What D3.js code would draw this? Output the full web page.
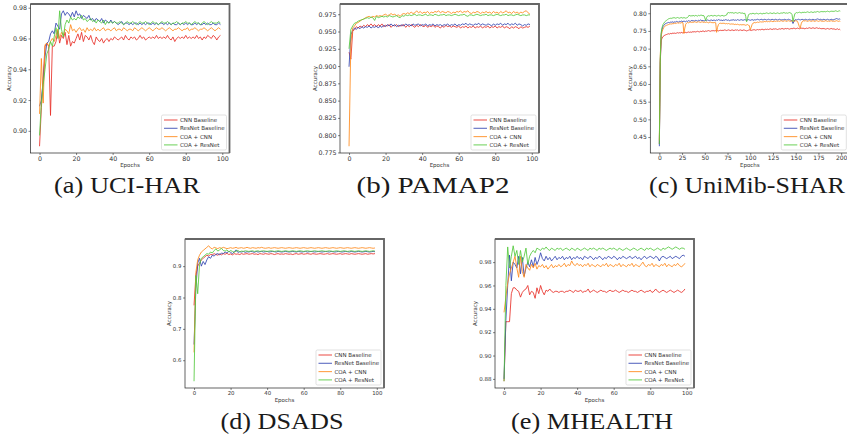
<!DOCTYPE html>
<html>
<head>
<meta charset="utf-8">
<script src="https://cdn.jsdelivr.net/npm/d3@7"></script>
<style>
  body { margin: 0; background: #fff; }
  svg { display: block; }
  .tick text { font-family: "DejaVu Sans"; fill: #333; }
  .tick line { stroke: #333; stroke-width: 0.6; }
</style>
</head>
<body>
<script>
// Legend labels and line colours (same for every panel)
var seriesNames = ["CNN Baseline", "ResNet Baseline", "COA + CNN", "COA + ResNet"];
var seriesColors = ["#e8312a", "#3446b2", "#ff8a1c", "#55c93f"];

// (a) UCI-HAR, accuracy per epoch
var uciCnn = [
  .890,.915,.935,.955,.957,.955,.910,.955,.955,.958,
  .965,.957,.962,.960,.964,.956,.962,.955,.958,.957,
  .960,.963,.959,.964,.958,.962,.961,.959,.962,.958,
  .956,.961,.959,.958,.960,.957,.959,.960,.958,.960,
  .959,.961,.960,.959,.960,.961,.959,.962,.960,.959,
  .961,.960,.961,.959,.960,.962,.960,.961,.959,.960,
  .961,.960,.961,.960,.962,.960,.961,.960,.961,.960,
  .962,.960,.959,.961,.958,.960,.961,.960,.961,.960,
  .962,.960,.961,.960,.961,.960,.962,.960,.961,.959,
  .961,.960,.962,.961,.960,.962,.961,.959,.961,.962
];
var uciResnet = [
  .916,.920,.933,.948,.957,.958,.963,.965,.963,.970,
  .968,.966,.976,.978,.975,.977,.976,.974,.977,.974,
  .978,.975,.976,.973,.975,.974,.973,.975,.972,.973,
  .971,.973,.972,.971,.973,.970,.972,.971,.970,.972,
  .970,.971,.970,.969,.970,.971,.969,.970,.970,.969,
  .970,.969,.970,.970,.969,.970,.969,.970,.969,.970,
  .970,.969,.970,.969,.970,.969,.970,.970,.969,.970,
  .969,.970,.969,.970,.969,.969,.970,.969,.970,.969,
  .970,.969,.970,.969,.969,.970,.969,.970,.969,.969,
  .970,.969,.970,.969,.969,.970,.969,.969,.970,.969
];
var uciCoaCnn = [
  .911,.947,.918,.956,.957,.955,.958,.960,.958,.962,
  .966,.960,.964,.962,.966,.965,.963,.969,.965,.966,
  .964,.966,.967,.965,.966,.964,.967,.965,.966,.965,
  .967,.965,.966,.965,.966,.967,.965,.966,.966,.965,
  .966,.967,.965,.966,.966,.965,.967,.966,.965,.966,
  .966,.965,.967,.966,.965,.966,.967,.966,.965,.966,
  .967,.966,.965,.966,.967,.966,.966,.967,.966,.965,
  .966,.967,.966,.965,.966,.966,.967,.966,.965,.966,
  .966,.967,.965,.966,.966,.967,.966,.965,.966,.966,
  .967,.966,.965,.966,.967,.966,.965,.966,.967,.966
];
var uciCoaResnet = [
  .897,.918,.930,.940,.950,.953,.958,.955,.961,.967,
  .960,.978,.966,.961,.969,.972,.970,.974,.972,.973,
  .972,.974,.973,.975,.972,.973,.971,.972,.973,.971,
  .972,.970,.972,.971,.970,.972,.969,.971,.970,.971,
  .970,.971,.970,.970,.971,.970,.969,.970,.971,.970,
  .970,.971,.970,.969,.970,.971,.970,.970,.971,.970,
  .969,.970,.971,.970,.970,.969,.970,.971,.970,.970,
  .971,.970,.969,.970,.970,.971,.970,.969,.970,.970,
  .971,.970,.970,.969,.970,.971,.970,.970,.969,.970,
  .971,.970,.969,.970,.971,.970,.970,.970,.971,.970
];

// (b) PAMAP2
var pamCnn = [
  .920,.910,.950,.953,.957,.955,.958,.956,.959,.957,
  .960,.958,.961,.958,.960,.957,.960,.958,.961,.957,
  .959,.958,.960,.956,.959,.958,.960,.957,.959,.958,
  .960,.956,.959,.957,.960,.958,.956,.959,.957,.960,
  .958,.957,.959,.956,.958,.957,.959,.956,.958,.957,
  .955,.958,.956,.959,.957,.958,.956,.958,.957,.956,
  .958,.955,.957,.956,.958,.955,.957,.956,.958,.955,
  .957,.956,.958,.955,.957,.956,.958,.955,.957,.956,
  .958,.955,.957,.956,.958,.955,.957,.956,.954,.957,
  .955,.957,.956,.954,.957,.955,.956,.957,.956,.958
];
var pamResnet = [
  .899,.945,.952,.955,.953,.956,.954,.957,.955,.957,
  .956,.958,.955,.957,.956,.958,.955,.958,.956,.959,
  .957,.960,.958,.961,.958,.960,.957,.959,.958,.960,
  .958,.961,.959,.960,.958,.961,.959,.960,.961,.958,
  .960,.959,.961,.958,.960,.959,.961,.958,.960,.959,
  .960,.958,.960,.959,.961,.958,.960,.959,.961,.958,
  .960,.959,.961,.960,.962,.959,.961,.960,.959,.961,
  .960,.962,.959,.961,.960,.959,.961,.960,.958,.961,
  .959,.961,.960,.962,.959,.961,.960,.962,.959,.961,
  .960,.962,.959,.961,.960,.958,.960,.959,.961,.960
];
var pamCoaCnn = [
  .784,.935,.955,.958,.962,.963,.965,.967,.968,.970,
  .971,.972,.970,.972,.971,.973,.972,.973,.972,.974,
  .975,.973,.974,.976,.974,.975,.973,.974,.972,.975,
  .976,.975,.977,.976,.978,.976,.977,.980,.977,.979,
  .976,.978,.977,.979,.976,.978,.977,.979,.978,.980,
  .977,.979,.978,.977,.979,.978,.976,.978,.977,.979,
  .978,.980,.977,.979,.978,.980,.977,.976,.978,.977,
  .979,.978,.976,.978,.977,.979,.977,.978,.976,.979,
  .977,.978,.976,.979,.977,.978,.980,.977,.978,.976,
  .979,.977,.978,.976,.978,.977,.979,.980,.977,.975
];
var pamCoaResnet = [
  .925,.953,.958,.962,.963,.965,.966,.967,.968,.969,
  .970,.969,.971,.970,.966,.972,.970,.971,.972,.971,
  .972,.971,.973,.972,.971,.972,.973,.971,.970,.973,
  .972,.974,.973,.974,.973,.974,.975,.973,.974,.974,
  .973,.974,.975,.973,.974,.974,.973,.975,.974,.973,
  .974,.974,.975,.973,.974,.974,.973,.974,.975,.974,
  .973,.974,.974,.975,.973,.972,.974,.974,.973,.974,
  .975,.974,.973,.974,.974,.975,.973,.974,.974,.973,
  .974,.975,.974,.973,.974,.974,.975,.973,.974,.974,
  .973,.974,.975,.974,.973,.974,.974,.973,.974,.974
];

// (c) UniMib-SHAR, 200 epochs
var uniCnn = [
  .430,.660,.722,.730,.734,.736,.738,.739,.740,.741,
  .742,.741,.743,.742,.743,.744,.743,.744,.743,.744,
  .745,.744,.745,.744,.746,.745,.744,.746,.745,.746,
  .745,.746,.747,.746,.747,.746,.747,.748,.747,.748,
  .747,.748,.749,.748,.747,.749,.748,.749,.750,.749,
  .748,.750,.749,.750,.751,.750,.749,.750,.751,.750,
  .751,.750,.751,.752,.751,.750,.751,.752,.751,.752,
  .751,.752,.753,.752,.751,.752,.753,.752,.751,.752,
  .753,.752,.751,.752,.753,.752,.753,.751,.752,.753,
  .752,.751,.752,.753,.752,.751,.750,.751,.752,.753,
  .752,.751,.753,.752,.754,.753,.752,.753,.754,.753,
  .754,.753,.754,.755,.754,.753,.754,.755,.754,.755,
  .754,.755,.756,.755,.754,.755,.756,.755,.756,.755,
  .754,.755,.756,.755,.756,.757,.756,.755,.756,.757,
  .756,.757,.756,.755,.756,.757,.756,.757,.758,.757,
  .756,.757,.758,.757,.756,.757,.758,.757,.758,.757,
  .756,.757,.758,.757,.758,.759,.758,.757,.758,.759,
  .758,.757,.758,.759,.758,.757,.758,.757,.756,.757,
  .756,.757,.756,.755,.756,.757,.756,.755,.756,.757,
  .756,.755,.756,.755,.754,.755,.756,.754,.755,.753
];
var uniResnet = [
  .424,.660,.740,.755,.762,.766,.769,.771,.772,.773,
  .774,.773,.775,.774,.776,.775,.774,.776,.775,.777,
  .776,.775,.777,.776,.778,.777,.776,.778,.777,.776,
  .778,.777,.779,.778,.777,.779,.780,.778,.779,.778,
  .780,.779,.778,.780,.779,.781,.780,.779,.780,.778,
  .779,.780,.779,.781,.780,.779,.780,.781,.780,.779,
  .781,.780,.779,.781,.780,.782,.781,.780,.781,.779,
  .780,.781,.780,.782,.781,.780,.781,.779,.780,.781,
  .780,.782,.781,.780,.781,.780,.782,.781,.780,.781,
  .782,.781,.780,.781,.782,.781,.780,.781,.782,.781,
  .780,.781,.782,.781,.780,.782,.781,.782,.783,.782,
  .781,.782,.783,.782,.781,.782,.783,.782,.781,.782,
  .783,.782,.781,.782,.783,.782,.781,.782,.783,.782,
  .781,.782,.783,.782,.781,.782,.781,.782,.783,.782,
  .781,.782,.783,.782,.781,.780,.778,.771,.776,.781,
  .782,.781,.782,.783,.782,.781,.782,.783,.782,.781,
  .782,.783,.782,.781,.782,.783,.782,.781,.782,.783,
  .782,.781,.782,.783,.784,.783,.782,.783,.782,.781,
  .782,.783,.782,.781,.782,.783,.782,.781,.782,.783,
  .782,.781,.782,.783,.784,.785,.784,.783,.784,.783
];
var uniCoaCnn = [
  .440,.680,.735,.748,.755,.760,.763,.765,.766,.767,
  .768,.769,.770,.769,.771,.770,.771,.772,.771,.772,
  .773,.772,.773,.772,.773,.774,.773,.743,.758,.769,
  .772,.774,.773,.774,.775,.774,.775,.774,.775,.776,
  .775,.774,.775,.776,.775,.774,.775,.776,.775,.774,
  .775,.774,.775,.774,.773,.774,.775,.774,.773,.774,
  .773,.774,.773,.746,.760,.768,.771,.772,.771,.772,
  .771,.772,.771,.770,.771,.770,.771,.770,.769,.770,
  .769,.770,.769,.768,.769,.768,.769,.768,.767,.768,
  .767,.768,.767,.768,.767,.766,.767,.768,.766,.765,
  .753,.760,.768,.772,.773,.774,.773,.774,.775,.774,
  .775,.776,.775,.776,.775,.776,.777,.776,.777,.776,
  .777,.776,.777,.778,.777,.776,.777,.778,.777,.778,
  .777,.778,.777,.778,.779,.778,.777,.778,.779,.778,
  .777,.778,.779,.778,.777,.778,.779,.778,.777,.778,
  .779,.778,.777,.770,.762,.758,.770,.776,.778,.779,
  .778,.779,.778,.777,.778,.779,.778,.777,.778,.779,
  .778,.777,.778,.779,.778,.777,.778,.779,.778,.777,
  .778,.777,.778,.779,.778,.777,.778,.777,.778,.779,
  .778,.777,.778,.777,.778,.779,.778,.777,.778,.777
];
var uniCoaResnet = [
  .430,.670,.745,.760,.768,.772,.776,.778,.780,.782,
  .784,.785,.786,.785,.787,.786,.788,.787,.786,.787,
  .788,.787,.786,.787,.788,.787,.786,.788,.787,.786,
  .787,.788,.791,.795,.792,.793,.792,.794,.793,.792,
  .794,.793,.792,.794,.793,.794,.795,.793,.794,.793,
  .787,.779,.788,.792,.793,.792,.793,.794,.793,.792,
  .793,.794,.793,.792,.793,.794,.793,.792,.793,.794,
  .793,.792,.793,.794,.795,.801,.802,.801,.802,.801,
  .802,.801,.800,.801,.802,.801,.800,.801,.802,.801,
  .800,.801,.800,.799,.800,.791,.776,.785,.795,.798,
  .799,.798,.799,.800,.799,.798,.799,.800,.799,.798,
  .799,.800,.799,.798,.799,.800,.799,.800,.801,.800,
  .799,.800,.801,.800,.799,.800,.801,.800,.799,.800,
  .801,.800,.799,.800,.801,.800,.801,.802,.801,.800,
  .801,.800,.801,.802,.801,.800,.796,.777,.788,.798,
  .801,.802,.801,.802,.803,.802,.801,.802,.803,.802,
  .803,.802,.803,.804,.803,.802,.803,.804,.803,.802,
  .803,.804,.803,.804,.805,.804,.803,.804,.805,.804,
  .805,.804,.805,.804,.805,.806,.805,.804,.805,.806,
  .805,.806,.805,.806,.807,.806,.805,.806,.807,.806
];

// (d) DSADS
var dsaCnn = [
  .775,.870,.900,.910,.920,.925,.930,.935,.932,.938,
  .936,.940,.937,.935,.939,.936,.940,.938,.941,.937,
  .939,.936,.940,.938,.939,.937,.940,.938,.939,.940,
  .938,.939,.940,.938,.939,.937,.940,.939,.938,.940,
  .939,.938,.940,.939,.937,.939,.940,.938,.939,.938,
  .940,.939,.938,.939,.937,.939,.940,.938,.939,.940,
  .938,.939,.940,.939,.938,.940,.939,.938,.939,.940,
  .939,.938,.939,.940,.938,.939,.940,.939,.938,.939,
  .940,.938,.939,.940,.939,.938,.940,.939,.938,.939,
  .940,.939,.938,.939,.940,.938,.939,.940,.939,.940
];
var dsaResnet = [
  .650,.830,.910,.925,.900,.915,.905,.920,.930,.925,
  .935,.932,.938,.940,.936,.942,.940,.945,.942,.948,
  .944,.940,.946,.952,.944,.946,.945,.947,.944,.946,
  .945,.947,.946,.944,.947,.945,.946,.947,.945,.946,
  .947,.945,.946,.947,.946,.945,.947,.946,.945,.946,
  .947,.946,.945,.946,.947,.946,.945,.947,.946,.945,
  .946,.947,.945,.946,.947,.946,.945,.946,.947,.946,
  .945,.946,.947,.946,.945,.947,.946,.945,.946,.947,
  .946,.945,.946,.947,.946,.945,.947,.946,.945,.946,
  .947,.946,.945,.946,.947,.946,.945,.946,.947,.946
];
var dsaCoaCnn = [
  .625,.880,.920,.935,.945,.950,.955,.960,.965,.958,
  .955,.960,.958,.956,.959,.957,.960,.958,.956,.957,
  .959,.957,.958,.960,.957,.958,.959,.957,.958,.960,
  .958,.957,.959,.958,.957,.959,.958,.960,.958,.957,
  .958,.959,.957,.958,.959,.958,.957,.958,.959,.958,
  .957,.958,.959,.958,.957,.958,.959,.958,.957,.958,
  .959,.958,.957,.958,.959,.958,.957,.958,.959,.958,
  .957,.958,.959,.958,.957,.958,.959,.958,.957,.958,
  .959,.958,.957,.958,.959,.958,.957,.958,.959,.958,
  .957,.958,.959,.958,.957,.958,.959,.958,.957,.958
];
var dsaCoaResnet = [
  .533,.870,.812,.905,.925,.930,.935,.940,.938,.945,
  .942,.950,.955,.948,.952,.957,.950,.948,.952,.945,
  .950,.947,.944,.948,.950,.946,.948,.947,.949,.948,
  .947,.948,.949,.947,.948,.949,.947,.948,.949,.948,
  .947,.948,.949,.948,.947,.948,.949,.948,.947,.948,
  .949,.948,.947,.948,.949,.948,.947,.948,.949,.948,
  .947,.948,.949,.948,.947,.948,.949,.948,.947,.948,
  .949,.948,.947,.948,.949,.948,.947,.948,.949,.948,
  .947,.948,.949,.948,.947,.948,.949,.948,.947,.948,
  .949,.948,.947,.948,.949,.948,.947,.948,.949,.948
];

// (e) MHEALTH
var mhCnn = [
  .878,.929,.929,.929,.953,.958,.958,.956,.955,.950,
  .954,.956,.957,.960,.952,.955,.954,.949,.958,.953,
  .960,.955,.952,.956,.955,.957,.955,.954,.955,.955,
  .954,.955,.955,.954,.955,.955,.956,.955,.954,.956,
  .955,.955,.956,.954,.955,.955,.957,.954,.955,.956,
  .955,.954,.955,.956,.955,.955,.954,.955,.956,.955,
  .955,.956,.955,.954,.955,.956,.955,.955,.954,.955,
  .956,.955,.955,.954,.955,.956,.955,.954,.955,.955,
  .956,.954,.955,.957,.955,.954,.955,.956,.955,.954,
  .955,.956,.955,.954,.955,.956,.955,.954,.955,.957
];
var mhResnet = [
  .880,.930,.960,.986,.964,.980,.978,.975,.985,.970,
  .984,.968,.975,.980,.976,.982,.976,.984,.978,.982,
  .988,.983,.981,.985,.982,.984,.981,.983,.985,.982,
  .984,.983,.985,.982,.984,.983,.985,.982,.984,.983,
  .985,.983,.984,.982,.985,.984,.983,.985,.984,.982,
  .984,.983,.985,.984,.982,.984,.983,.985,.984,.983,
  .985,.984,.982,.984,.983,.985,.984,.983,.984,.985,
  .983,.984,.985,.983,.984,.982,.984,.985,.983,.984,
  .985,.984,.983,.985,.984,.981,.984,.985,.984,.983,
  .984,.985,.983,.984,.985,.984,.983,.985,.986,.985
];
var mhCoaCnn = [
  .937,.950,.962,.970,.975,.980,.985,.975,.967,.985,
  .972,.967,.978,.975,.973,.978,.975,.979,.974,.977,
  .976,.978,.975,.977,.974,.976,.978,.975,.977,.976,
  .978,.976,.977,.979,.976,.978,.977,.981,.978,.977,
  .979,.977,.978,.976,.978,.977,.979,.976,.978,.977,
  .976,.978,.977,.976,.978,.977,.979,.976,.978,.977,
  .976,.978,.977,.979,.976,.978,.977,.976,.978,.977,
  .979,.976,.978,.977,.976,.978,.980,.977,.976,.978,
  .977,.979,.976,.978,.977,.976,.978,.977,.979,.976,
  .978,.977,.976,.978,.977,.979,.977,.976,.977,.979
];
var mhCoaResnet = [
  .878,.960,.993,.975,.985,.994,.985,.990,.978,.990,
  .980,.985,.992,.978,.985,.988,.990,.988,.992,.991,
  .990,.992,.991,.993,.991,.990,.992,.991,.990,.992,
  .991,.992,.990,.991,.992,.991,.990,.992,.991,.990,
  .992,.991,.990,.991,.992,.991,.990,.992,.991,.992,
  .991,.990,.992,.991,.992,.991,.990,.991,.992,.991,
  .992,.991,.990,.992,.991,.990,.991,.992,.991,.990,
  .991,.992,.991,.990,.991,.992,.991,.990,.992,.991,
  .992,.991,.990,.991,.992,.991,.990,.992,.991,.992,
  .993,.992,.991,.992,.993,.992,.991,.992,.992,.991
];

// Tick values
var xTicks100 = [0, 20, 40, 60, 80, 100];
var xTicks200 = [0, 25, 50, 75, 100, 125, 150, 175, 200];
var uciTicks = [0.90, 0.92, 0.94, 0.96, 0.98];
var pamTicks = [0.775, 0.800, 0.825, 0.850, 0.875, 0.900, 0.925, 0.950, 0.975];
var uniTicks = [0.45, 0.50, 0.55, 0.60, 0.65, 0.70, 0.75, 0.80];
var dsaTicks = [0.6, 0.7, 0.8, 0.9];
var mhTicks = [0.88, 0.90, 0.92, 0.94, 0.96, 0.98];

var svgWidth = 847, svgHeight = 440;
var plotW = 199, plotH = 149;

var svg = d3.select("body").append("svg")
  .attr("width", svgWidth)
  .attr("height", svgHeight);

// Panel placement; captions are stretched to the width of the LaTeX captions
var panels = [
  { caption: "(a) UCI-HAR", left: 30.5, top: 4, series: [uciCnn, uciResnet, uciCoaCnn, uciCoaResnet],
    yTicks: uciTicks, yFmt: ".2f", xTicks: xTicks100, tickFont: 6.3, capX: 127, capY: 193, capW: 146 },
  { caption: "(b) PAMAP2", left: 340, top: 4, series: [pamCnn, pamResnet, pamCoaCnn, pamCoaResnet],
    yTicks: pamTicks, yFmt: ".3f", xTicks: xTicks100, tickFont: 6.3, capX: 433, capY: 193, capW: 153 },
  { caption: "(c) UniMib-SHAR", left: 650.3, top: 4, series: [uniCnn, uniResnet, uniCoaCnn, uniCoaResnet],
    yTicks: uniTicks, yFmt: ".2f", xTicks: xTicks200, tickFont: 6, capX: 747, capY: 193, capW: 196 },
  { caption: "(d) DSADS", left: 185, top: 239, series: [dsaCnn, dsaResnet, dsaCoaCnn, dsaCoaResnet],
    yTicks: dsaTicks, yFmt: ".1f", xTicks: xTicks100, tickFont: 5.4, capX: 282, capY: 429, capW: 123 },
  { caption: "(e) MHEALTH", left: 495, top: 239, series: [mhCnn, mhResnet, mhCoaCnn, mhCoaResnet],
    yTicks: mhTicks, yFmt: ".2f", xTicks: xTicks100, tickFont: 5.5, capX: 592, capY: 429, capW: 162 }
];

panels.forEach(function(p, pi) {
  var g = svg.append("g").attr("transform", `translate(${p.left}, ${p.top})`);

  // matplotlib-style autoscale with 5% margins
  var n = p.series[0].length;
  var all = d3.merge(p.series);
  var lo = d3.min(all), hi = d3.max(all), pad = (hi - lo) * 0.05;

  var xScale = d3.scaleLinear().domain([-(n - 1) * 0.05, (n - 1) * 1.05]).range([0, plotW]);
  var yScale = d3.scaleLinear().domain([lo - pad, hi + pad]).range([plotH, 0]);

  g.append("clipPath").attr("id", "clip" + pi)
    .append("rect").attr("width", plotW).attr("height", plotH);

  var line = d3.line()
    .x((d, i) => xScale(i))
    .y(d => yScale(d));

  var lines = g.append("g").attr("clip-path", `url(#clip${pi})`);
  p.series.forEach(function(s, si) {
    lines.append("path")
      .attr("d", line(s))
      .attr("fill", "none")
      .attr("stroke", seriesColors[si])
      .attr("stroke-width", 0.95)
      .attr("stroke-opacity", 0.9)
      .attr("stroke-linejoin", "round");
  });

  // axes
  var bottomAxis = d3.axisBottom(xScale).tickValues(p.xTicks).tickSize(2).tickPadding(1.2).tickFormat(d3.format("d"));
  var leftAxis = d3.axisLeft(yScale).tickValues(p.yTicks).tickSize(2).tickPadding(1.6).tickFormat(d3.format(p.yFmt));

  var xAxisG = g.append("g").attr("transform", `translate(0, ${plotH})`).call(bottomAxis);
  xAxisG.select(".domain").remove();
  xAxisG.selectAll("text").style("font-size", p.tickFont + "px");
  var yAxisG = g.append("g").call(leftAxis);
  yAxisG.select(".domain").remove();
  yAxisG.selectAll("text").style("font-size", p.tickFont + "px");

  // frame
  g.append("rect").attr("width", plotW).attr("height", plotH)
    .attr("fill", "none").attr("stroke", "#222").attr("stroke-width", 0.7);
  g.append("path").attr("d", `M0,0H${plotW}V${plotH}`)
    .attr("fill", "none").attr("stroke", "#666").attr("stroke-width", 1.8);

  // axis labels
  g.append("text")
    .attr("x", plotW / 2).attr("y", plotH + 14)
    .attr("text-anchor", "middle")
    .style("font-family", "DejaVu Sans").style("font-size", "5.5px").style("fill", "#333")
    .text("Epochs");

  var bb = yAxisG.node().getBBox();
  g.append("text")
    .attr("transform", `translate(${bb.x - 1.8}, ${plotH / 2}) rotate(-90)`)
    .attr("text-anchor", "middle")
    .style("font-family", "DejaVu Sans").style("font-size", "5.5px").style("fill", "#333")
    .text("Accuracy");

  // legend, lower right
  var legW = 65, legH = 35;
  var leg = g.append("g").attr("transform", `translate(${plotW - legW - 3}, ${plotH - legH - 3})`);
  leg.append("rect").attr("width", legW).attr("height", legH).attr("rx", 1.5)
    .attr("fill", "#fff").attr("fill-opacity", 0.85)
    .attr("stroke", "#ccc").attr("stroke-width", 0.6);
  seriesNames.forEach(function(name, si) {
    var ly = 5 + si * 8.3;
    leg.append("line").attr("x1", 2.5).attr("x2", 16).attr("y1", ly).attr("y2", ly)
      .attr("stroke", seriesColors[si]).attr("stroke-width", 1.1).attr("stroke-opacity", 0.8);
    leg.append("text").attr("x", 18.5).attr("y", ly).attr("dy", "0.35em")
      .style("font-family", "DejaVu Sans").style("font-size", "5.5px").style("fill", "#333")
      .text(name);
  });

  // caption under the panel
  svg.append("text")
    .attr("x", p.capX).attr("y", p.capY)
    .attr("text-anchor", "middle")
    .attr("textLength", p.capW).attr("lengthAdjust", "spacingAndGlyphs")
    .style("font-family", "Liberation Serif").style("font-size", "23px").style("fill", "#1a1a1a")
    .text(p.caption);
});
</script>
</body>
</html>
